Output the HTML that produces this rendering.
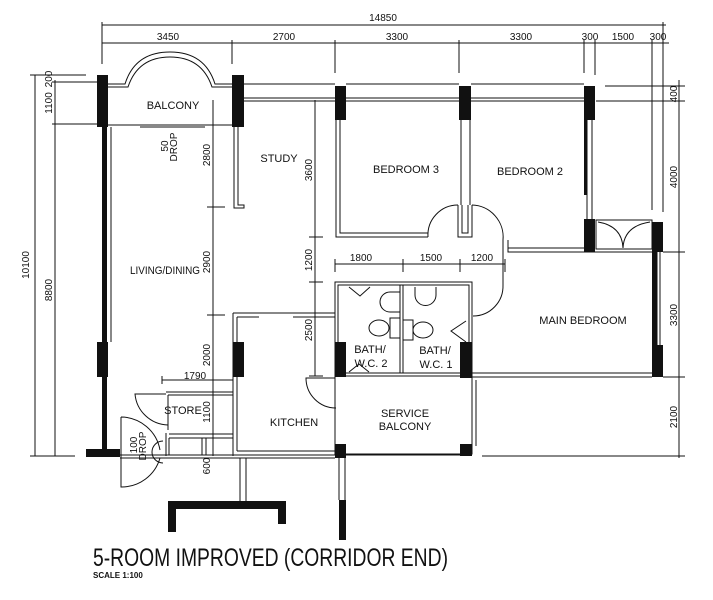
<!DOCTYPE html>
<html><head><meta charset="utf-8"><style>
html,body{margin:0;padding:0;background:#fff;width:713px;height:600px;overflow:hidden}
svg{display:block}
text{font-family:"Liberation Sans",sans-serif;fill:#111}
</style></head><body>
<svg width="713" height="600" viewBox="0 0 713 600" xmlns="http://www.w3.org/2000/svg">
<g stroke="#111" stroke-width="1" fill="none">
<line x1="102" y1="25" x2="666" y2="25"/>
<line x1="102" y1="43" x2="669" y2="43"/>
<line x1="102" y1="22" x2="102" y2="64"/>
<line x1="232" y1="40" x2="232" y2="64"/>
<line x1="335" y1="40" x2="335" y2="73"/>
<line x1="459" y1="40" x2="459" y2="73"/>
<line x1="584" y1="40" x2="584" y2="73"/>
<line x1="595" y1="40" x2="595" y2="75"/>
<line x1="652" y1="40" x2="652" y2="210"/>
<line x1="663" y1="22" x2="663" y2="212"/>
<line x1="35" y1="75" x2="35" y2="456"/>
<line x1="30" y1="75" x2="86" y2="75"/>
<line x1="55" y1="80" x2="55" y2="456"/>
<line x1="52" y1="82" x2="98" y2="82"/>
<line x1="52" y1="124" x2="98" y2="124"/>
<line x1="30" y1="456" x2="75" y2="456"/>
<line x1="679" y1="80" x2="679" y2="458"/>
<line x1="605" y1="86" x2="685" y2="86"/>
<line x1="596" y1="101" x2="685" y2="101"/>
<line x1="663" y1="252" x2="685" y2="252"/>
<line x1="663" y1="377" x2="685" y2="377"/>
<line x1="482" y1="456" x2="685" y2="456"/>
<line x1="213" y1="100" x2="213" y2="456"/>
<line x1="207" y1="207" x2="225" y2="207"/>
<line x1="207" y1="315" x2="225" y2="315"/>
<line x1="162" y1="380" x2="233" y2="380"/>
<line x1="162" y1="376" x2="162" y2="384"/>
<line x1="315" y1="100" x2="315" y2="376"/>
<line x1="309" y1="237" x2="323" y2="237"/>
<line x1="309" y1="282" x2="323" y2="282"/>
<line x1="309" y1="376" x2="323" y2="376"/>
<line x1="335" y1="264" x2="505" y2="264"/>
<line x1="335" y1="259" x2="335" y2="272"/>
<line x1="403" y1="259" x2="403" y2="272"/>
<line x1="460" y1="259" x2="460" y2="272"/>
<line x1="505" y1="259" x2="505" y2="272"/>
<path d="M108 84 H125 Q135 52 170 52 Q205 52 215 84 H232"/>
<path d="M108 87 H128 Q138 57 170 57 Q202 57 212 87 H232"/>
<line x1="108" y1="125" x2="232" y2="125"/>
<line x1="140" y1="127" x2="205" y2="127"/>
<line x1="244" y1="84" x2="335" y2="84"/>
<line x1="346" y1="84" x2="459" y2="84"/>
<line x1="471" y1="84" x2="584" y2="84"/>
<line x1="244" y1="98" x2="584" y2="98"/>
<line x1="244" y1="101" x2="584" y2="101"/>
<path d="M234 127 V208 H244 V205 H238 V127"/>
<path d="M336 120 V237 H428 M340 120 V233 H428"/>
<path d="M428 237 A30 30 0 0 1 458 205"/>
<path d="M458 205 V237 H472 V205 M462 205 V233 H468 V205 M461 120 V205 M470 120 V205"/>
<path d="M472 205 A32 32 0 0 1 503 240"/>
<path d="M503 240 V282 M508 240 V252 H652 M508 248 H584"/>
<line x1="587" y1="120" x2="587" y2="219"/>
<line x1="592" y1="120" x2="592" y2="219"/>
<rect x="596" y="220" width="56" height="29"/>
<path d="M598 222 Q622 226 623 248 Q624 226 650 222"/>
<line x1="657" y1="252" x2="657" y2="345"/>
<line x1="660" y1="252" x2="660" y2="345"/>
<line x1="472" y1="373" x2="652" y2="373"/>
<line x1="472" y1="377" x2="652" y2="377"/>
<path d="M503 282 V285 A30 30 0 0 1 473 316"/>
<rect x="335" y="282" width="137" height="94"/>
<rect x="338" y="285" width="131" height="88"/>
<line x1="400" y1="285" x2="400" y2="373"/>
<line x1="403" y1="285" x2="403" y2="373"/>
<path d="M349 287 L360 296 L370 287 M349 372 L359 364 L369 372 M466 321 L451 331 L466 342"/>
<path d="M400 292 H390 A10 10 0 0 0 390 312 H400"/>
<path d="M436 287 V295 A10 10 0 0 1 415 295 V287"/>
<rect x="390" y="318" width="10" height="20"/><ellipse cx="379" cy="328" rx="10" ry="8"/>
<rect x="403" y="320" width="10" height="20"/><ellipse cx="423" cy="330" rx="10" ry="8"/>
<rect x="335" y="376" width="137" height="78"/>
<line x1="472" y1="380" x2="472" y2="446"/><line x1="476" y1="380" x2="476" y2="446"/>
<path d="M233 313 H335 M237 317 H259 M293 317 H335"/>
<path d="M233 313 V456 M237 317 V451"/>
<path d="M335 378 H306 A30 30 0 0 0 336 408"/>
<line x1="237" y1="451" x2="335" y2="451"/>
<line x1="111" y1="127" x2="111" y2="342"/>
<path d="M166 392 H233 M168 395 H233 M168 395 V430"/>
<path d="M168 425 A34 34 0 0 1 135 394 H166"/>
<path d="M166 433 V456 M169 434 H233 M169 438 H233 M169 438 V455 M202 438 V455 M206 438 V455"/>
<path d="M121 417 A40 40 0 0 1 160 450 V450 M121 417 V487 A40 40 0 0 0 160 458"/>
<path d="M163 441 A8 8 0 0 0 163 463"/>
<line x1="120" y1="455" x2="470" y2="455"/>
<line x1="120" y1="458" x2="335" y2="458"/>
<path d="M240 458 V501 M246 458 V501"/>
<path d="M339 458 V500 M345 458 V500"/>
</g>
<g fill="#111">
<rect x="97" y="75" width="11" height="52"/>
<rect x="232" y="75" width="12" height="52"/>
<rect x="102" y="127" width="5" height="325"/>
<rect x="97" y="342" width="11" height="35"/>
<rect x="86" y="449" width="34" height="8"/>
<rect x="335" y="86" width="11" height="34"/>
<rect x="459" y="86" width="12" height="34"/>
<rect x="584" y="86" width="11" height="34"/>
<rect x="584" y="120" width="3" height="75"/>
<rect x="584" y="219" width="11" height="33"/>
<rect x="652" y="222" width="11" height="30"/>
<rect x="652" y="252" width="5" height="125"/>
<rect x="652" y="345" width="11" height="32"/>
<rect x="233" y="342" width="11" height="35"/>
<rect x="335" y="342" width="11" height="35"/>
<rect x="460" y="342" width="12" height="36"/>
<rect x="335" y="444" width="11" height="13"/>
<rect x="460" y="444" width="12" height="12"/>
<rect x="168" y="501" width="118" height="8"/>
<rect x="168" y="501" width="8" height="31"/>
<rect x="278" y="501" width="8" height="23"/>
<rect x="339" y="500" width="7" height="40"/>
<rect x="335" y="454" width="11" height="4"/>
</g>
<g font-size="10" text-anchor="middle">
<text x="383" y="21">14850</text>
<text x="168" y="40">3450</text>
<text x="284" y="40">2700</text>
<text x="397" y="40">3300</text>
<text x="521" y="40">3300</text>
<text x="590" y="40">300</text>
<text x="623" y="40">1500</text>
<text x="658" y="40">300</text>
<text x="361" y="261">1800</text>
<text x="431" y="261">1500</text>
<text x="482" y="261">1200</text>
<text x="195" y="379">1790</text>
</g>
<g font-size="10" text-anchor="middle">
<text transform="translate(29,265) rotate(-90)">10100</text>
<text transform="translate(52,290) rotate(-90)">8800</text>
<text transform="translate(52,79) rotate(-90)">200</text>
<text transform="translate(52,103) rotate(-90)">1100</text>
<text transform="translate(210,155) rotate(-90)">2800</text>
<text transform="translate(210,262) rotate(-90)">2900</text>
<text transform="translate(210,355) rotate(-90)">2000</text>
<text transform="translate(210,412) rotate(-90)">1100</text>
<text transform="translate(210,466) rotate(-90)">600</text>
<text transform="translate(312,170) rotate(-90)">3600</text>
<text transform="translate(312,260) rotate(-90)">1200</text>
<text transform="translate(312,330) rotate(-90)">2500</text>
<text transform="translate(677,177) rotate(-90)">4000</text>
<text transform="translate(677,94) rotate(-90)">400</text>
<text transform="translate(677,315) rotate(-90)">3300</text>
<text transform="translate(677,417) rotate(-90)">2100</text>
<text transform="translate(168,146) rotate(-90)">50</text>
<text transform="translate(177,147) rotate(-90)">DROP</text>
<text transform="translate(137,445) rotate(-90)">100</text>
<text transform="translate(146,446) rotate(-90)">DROP</text>
</g>
<g font-size="11" text-anchor="middle">
<text x="173" y="109">BALCONY</text>
<text x="279" y="162">STUDY</text>
<text x="406" y="173">BEDROOM 3</text>
<text x="530" y="175">BEDROOM 2</text>
<text x="165" y="274" textLength="70" lengthAdjust="spacingAndGlyphs">LIVING/DINING</text>
<text x="583" y="324">MAIN BEDROOM</text>
<text x="370" y="353">BATH/</text>
<text x="371" y="367">W.C. 2</text>
<text x="435" y="354">BATH/</text>
<text x="436" y="368">W.C. 1</text>
<text x="405" y="417">SERVICE</text>
<text x="405" y="430">BALCONY</text>
<text x="183" y="414">STORE</text>
<text x="294" y="426">KITCHEN</text>
</g>
<text x="93" y="566" font-size="25" textLength="355" lengthAdjust="spacingAndGlyphs">5-ROOM IMPROVED (CORRIDOR END)</text>
<text x="93" y="578" font-size="8" font-weight="bold">SCALE 1:100</text>
</svg>
</body></html>
